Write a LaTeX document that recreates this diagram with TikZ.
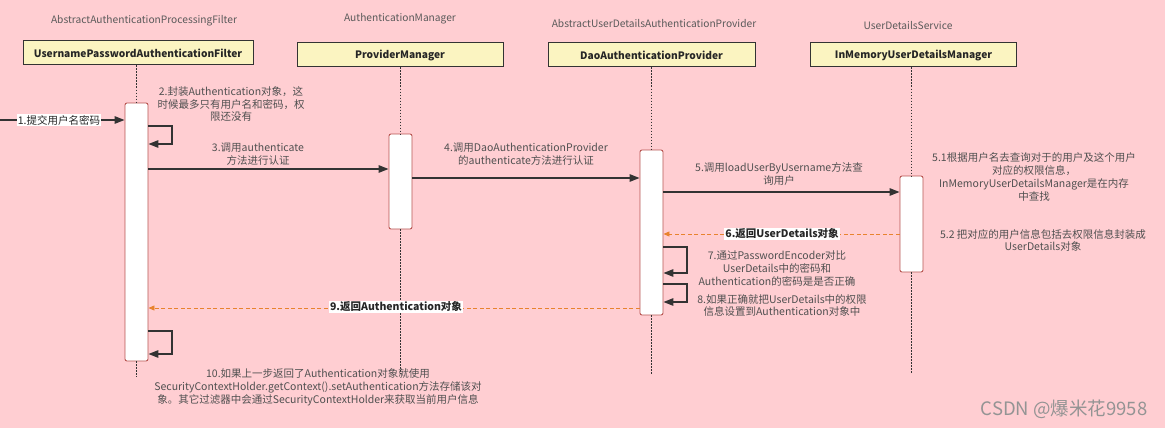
\documentclass[tikz,border=0pt]{standalone}
\usepackage{fontspec}
\setmainfont{Noto Sans CJK SC}
\usetikzlibrary{arrows.meta}
\definecolor{bgpink}{HTML}{FFCED2}
\definecolor{boxfill}{HTML}{FBF4C1}
\definecolor{actborder}{HTML}{B85450}
\definecolor{linegray}{HTML}{333333}
\definecolor{txtgray}{HTML}{505050}
\definecolor{titlegray}{HTML}{5A5A5A}
\definecolor{retorange}{HTML}{E8832E}
\tikzset{
  cls/.style={draw=linegray, fill=boxfill, line width=1pt, minimum height=24, inner sep=0pt,
    font=\fontsize{10.2}{12}\selectfont\bfseries, text=black!85},
  ttl/.style={font=\fontsize{10.2}{12}\selectfont, text=titlegray},
  act/.style={draw=actborder, fill=white, line width=0.9pt, rounded corners=2pt, minimum width=23, inner sep=0pt},
  life/.style={draw=linegray, line width=1.5pt, dash pattern=on 1.5pt off 1.5pt},
  msg/.style={draw=linegray, line width=1.5pt, -{Triangle[length=10pt,width=7.5pt]}},
  ret/.style={draw=retorange, line width=0.9pt, dash pattern=on 4pt off 2.5pt, -{Triangle[length=6pt,width=5pt]}},
  lbl/.style={font=\fontsize{10.5}{12.9}\selectfont, text=txtgray, align=center, inner sep=1pt},
  blbl/.style={font=\fontsize{10.5}{12.9}\selectfont\bfseries, text=black!85, fill=white, inner sep=1pt},
  wlbl/.style={font=\fontsize{10.5}{12.9}\selectfont, text=black!85, fill=white, inner sep=1pt},
}
\begin{document}
\begin{tikzpicture}[x=1pt,y=-1pt]
\fill[bgpink] (0,0) rectangle (1165,428);
\useasboundingbox (0,0) rectangle (1165,428);

% titles
\node[ttl] (t1) at (144,21) {AbstractAuthenticationProcessingFilter};
\node[ttl] (t2) at (400,19) {AuthenticationManager};
\node[ttl] (t3) at (654,24) {AbstractUserDetailsAuthenticationProvider};
\node[ttl] (t4) at (908,26) {UserDetailsService};

% class boxes
\node[cls, minimum width=230] (b1) at (138,53) {UsernamePasswordAuthenticationFilter};
\node[cls, minimum width=206] (b2) at (400,55) {ProviderManager};
\node[cls, minimum width=207] (b3) at (651.5,55) {DaoAuthenticationProvider};
\node[cls, minimum width=206] (b4) at (913.5,55) {InMemoryUserDetailsManager};

% activations
\node[act, minimum height=258] (a1) at (136.5,232) {};
\node[act, minimum height=95] (a2) at (400.5,181.5) {};
\node[act, minimum height=165] (a3) at (651.5,232.5) {};
\node[act, minimum height=96] (a4) at (911.5,224) {};

% lifeline ends
\coordinate (e1) at (136.5,377);
\coordinate (e2) at (400.5,374);
\coordinate (e3) at (651.5,374);
\coordinate (e4) at (911.5,373);
\coordinate (src) at (0,120);

% lifelines
\draw[life] (b1.south -| a1.north) -- (a1.north);
\draw[life] (a1.south) -- (e1);
\draw[life] (b2.south -| a2.north) -- (a2.north);
\draw[life] (a2.south) -- (e2);
\draw[life] (b3.south -| a3.north) -- (a3.north);
\draw[life] (a3.south) -- (e3);
\draw[life] (b4.south -| a4.north) -- (a4.north);
\draw[life] (a4.south) -- (e4);

% 1
\draw[msg] (src) -- (a1.west |- src);
\node[wlbl] (l1) at (59,120) {1.提交用户名密码};

% 2 self loop
\draw[msg] (a1.east |- 0,126) -- (172,126) -- (172,144) -- (a1.east |- 0,144);
\node[lbl] (l2) at (231,104) {2.封装Authentication对象，这\\时候最多只有用户名和密码，权\\限还没有};

% 3
\draw[msg] (a1.east |- 0,169) -- (a2.west |- 0,169);
\node[lbl] (l3) at (258,154) {3.调用authenticate\\方法进行认证};

% 4
\draw[msg] (a2.east |- 0,178) -- (a3.west |- 0,178);
\node[lbl] (l4) at (526,154.5) {4.调用DaoAuthenticationProvider\\的authenticate方法进行认证};

% 5
\draw[msg] (a3.east |- 0,192) -- (a4.west |- 0,192);
\node[lbl] (l5) at (779,174) {5.调用loadUserByUsername方法查\\询用户};

% 5.1
\node[lbl] (l51) at (1034,177) {5.1根据用户名去查询对于的用户及这个用户\\对应的权限信息，\\InMemoryUserDetailsManager是在内存\\中查找};

% 5.2
\node[lbl] (l52) at (1043,240.5) {5.2 把对应的用户信息包括去权限信息封装成\\UserDetails对象};

% 6
\draw[ret] (a4.west |- 0,234) -- (a3.east |- 0,234);
\node[blbl] (l6) at (782,234) {6.返回UserDetails对象};

% 7 self loop
\draw[msg] (a3.east |- 0,247) -- (687,247) -- (687,273) -- (a3.east |- 0,273);
\node[lbl] (l7) at (777,268.5) {7.通过PasswordEncoder对比\\UserDetails中的密码和\\Authentication的密码是是否正确};

% 8 self loop
\draw[msg] (a3.east |- 0,284) -- (687,284) -- (687,302) -- (a3.east |- 0,302);
\node[lbl] (l8) at (782,305.5) {8.如果正确就把UserDetails中的权限\\信息设置到Authentication对象中};

% 9
\draw[ret] (a3.west |- 0,308) -- (a1.east |- 0,308);
\node[blbl] (l9) at (396,307) {9.返回Authentication对象};

% 10 self loop
\draw[msg] (a1.east |- 0,331) -- (172,331) -- (172,354) -- (a1.east |- 0,354);
\node[lbl] (l10) at (318,387) {10.如果上一步返回了Authentication对象就使用\\SecurityContextHolder.getContext().setAuthentication方法存储该对\\象。其它过滤器中会通过SecurityContextHolder来获取当前用户信息};

% watermark
\node[font=\fontsize{18.5}{20}\selectfont, text=black!42] (wm) at (1064,409) {CSDN @爆米花9958};
\end{tikzpicture}
\end{document}
